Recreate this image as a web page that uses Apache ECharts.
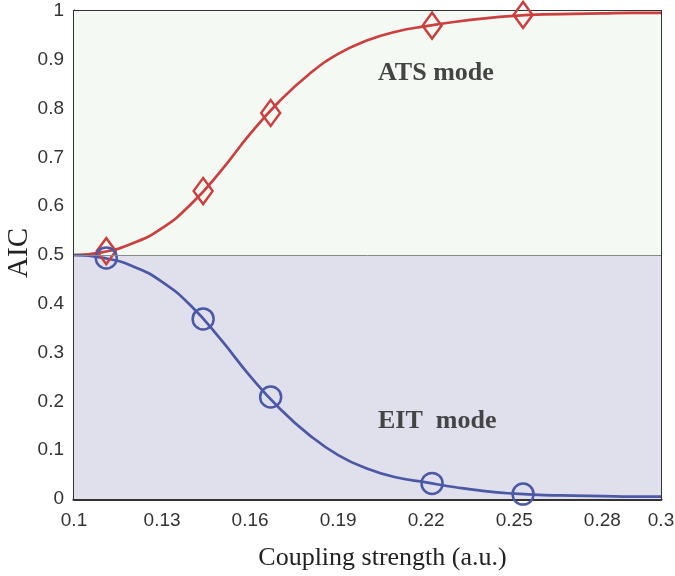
<!DOCTYPE html>
<html>
<head>
<meta charset="utf-8">
<script src="https://cdn.jsdelivr.net/npm/echarts@6/dist/echarts.min.js"></script>
<style>
  html, body { margin: 0; padding: 0; background: #fff; }
  #main { width: 675px; height: 576px; }
</style>
</head>
<body>
<div id="main"></div>
<script>
// smooth curves, every 0.01
const curveX = [0.10, 0.11, 0.12, 0.13, 0.14, 0.15, 0.16, 0.17, 0.18, 0.19, 0.20,
                0.21, 0.22, 0.23, 0.24, 0.25, 0.26, 0.27, 0.28, 0.29, 0.30];
const atsCurve = [0.500, 0.506, 0.524, 0.555, 0.605, 0.672, 0.748, 0.815, 0.870, 0.912, 0.940,
                  0.958, 0.969, 0.978, 0.985, 0.990, 0.993, 0.994, 0.995, 0.996, 0.996];
const eitCurve = [0.500, 0.494, 0.477, 0.445, 0.395, 0.327, 0.252, 0.186, 0.132, 0.090, 0.062,
                  0.044, 0.034, 0.024, 0.016, 0.011, 0.008, 0.007, 0.006, 0.005, 0.005];

// marker points
const markX = [0.111, 0.144, 0.167, 0.222, 0.253];
const atsMarks = [0.508, 0.631, 0.791, 0.970, 0.992];
const eitMarks = [0.494, 0.369, 0.209, 0.032, 0.010];

const xTicks = [0.1, 0.13, 0.16, 0.19, 0.22, 0.25, 0.28, 0.3];
const yTicks = [0, 0.1, 0.2, 0.3, 0.4, 0.5, 0.6, 0.7, 0.8, 0.9, 1];

const red = '#cc3f3f';
const blue = '#4b58a6';
const tickFont = { fontFamily: 'Liberation Sans', fontSize: 19, color: '#333' };

const zip = (xs, ys) => xs.map((x, i) => [x, ys[i]]);

const chart = echarts.init(document.getElementById('main'));
chart.setOption({
  animation: false,
  grid: {
    left: 74, right: 14, top: 11, bottom: 77,
    outerBoundsMode: 'none', containLabel: false,
    show: true, borderColor: '#333', borderWidth: 2
  },
  xAxis: {
    type: 'value', min: 0.1, max: 0.3,
    name: 'Coupling strength (a.u.)',
    nameLocation: 'middle', nameGap: 46,
    nameTextStyle: { fontFamily: 'Liberation Serif', fontSize: 26, color: '#222', padding: [0, 0, 0, 30] },
    axisLine: { lineStyle: { color: '#333', width: 3 } },
    axisTick: { inside: true, length: 5, lineStyle: { color: '#333', width: 2 }, customValues: xTicks },
    axisLabel: Object.assign({ margin: 12, customValues: xTicks, formatter: v => String(+v.toFixed(2)) }, tickFont),
    splitLine: { show: false }
  },
  yAxis: {
    type: 'value', min: 0, max: 1,
    axisLine: { lineStyle: { color: '#333', width: 3 } },
    axisTick: { inside: true, length: 5, lineStyle: { color: '#333', width: 2 }, customValues: yTicks },
    axisLabel: Object.assign({ margin: 10, customValues: yTicks, formatter: v => String(+v.toFixed(1)) }, tickFont),
    splitLine: { show: false }
  },
  series: [
    {
      name: 'bg', type: 'line', data: [], z: 1, silent: true,
      markArea: {
        silent: true,
        data: [
          [{ yAxis: 0.5, itemStyle: { color: '#f5f9f3' } }, { yAxis: 1 }],
          [{ yAxis: 0, itemStyle: { color: '#dfe0eb' } }, { yAxis: 0.5 }]
        ]
      },
      markLine: {
        silent: true, symbol: 'none', label: { show: false },
        lineStyle: { color: '#8a8a8a', width: 1, type: 'solid' },
        data: [{ yAxis: 0.5 }]
      }
    },
    {
      name: 'ATS', type: 'line', z: 3, smooth: true, showSymbol: false,
      data: zip(curveX, atsCurve),
      lineStyle: { color: red, width: 2.7 }
    },
    {
      name: 'EIT', type: 'line', z: 3, smooth: true, showSymbol: false,
      data: zip(curveX, eitCurve),
      lineStyle: { color: blue, width: 2.7 }
    },
    {
      name: 'ATS points', type: 'scatter', z: 4,
      symbol: 'diamond', symbolSize: [19, 26],
      data: zip(markX, atsMarks),
      itemStyle: { color: 'rgba(0,0,0,0)', borderColor: red, borderWidth: 2.5, opacity: 1 }
    },
    {
      name: 'EIT points', type: 'scatter', z: 4,
      symbol: 'circle', symbolSize: 21,
      data: zip(markX, eitMarks),
      itemStyle: { color: 'rgba(0,0,0,0)', borderColor: blue, borderWidth: 2.5, opacity: 1 }
    }
  ],
  graphic: [
    {
      type: 'text', x: 19, y: 253, rotation: Math.PI / 2, z: 10,
      style: { text: 'AIC', font: '29px "Liberation Serif"', fill: '#222', align: 'center', verticalAlign: 'middle' }
    },
    {
      type: 'text', left: 378, top: 60, z: 10,
      style: { text: 'ATS mode', font: 'bold 26px "Liberation Serif"', fill: '#444' }
    },
    {
      type: 'text', left: 378, top: 408, z: 10,
      style: { text: 'EIT  mode', font: 'bold 26px "Liberation Serif"', fill: '#444' }
    }
  ]
});
</script>
</body>
</html>
